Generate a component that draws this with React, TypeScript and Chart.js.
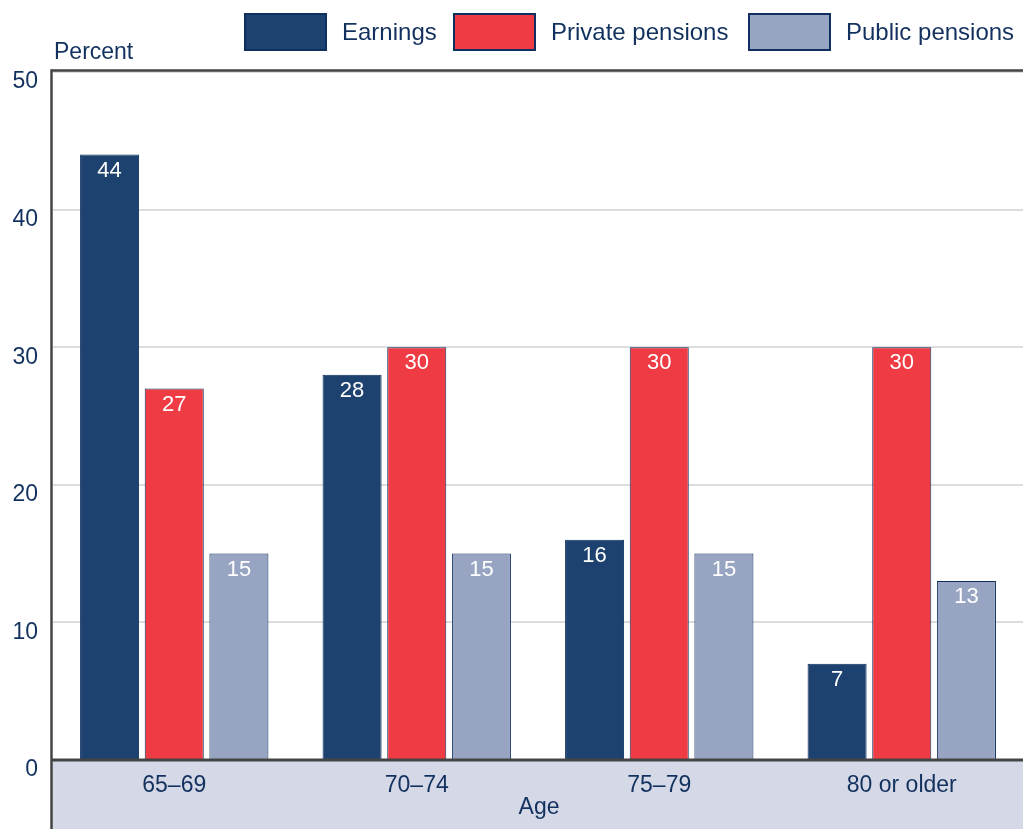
import React, { useEffect, useRef } from "react";
import { Chart, registerables } from "chart.js";

Chart.register(...registerables);

const categories = ["65–69", "70–74", "75–79", "80 or older"];
const earnings = [44, 28, 16, 7];
const privatePensions = [27, 30, 30, 30];
const publicPensions = [15, 15, 15, 13];
const seriesNames = ["Earnings", "Private pensions", "Public pensions"];
const yTicks = [0, 10, 20, 30, 40, 50];

const TEXT = "#12315e";
const BORDER = "#0e2f5f";
const COLORS = ["#1e426f", "#ef3c44", "#97a5c2"];
const FONT = "'Liberation Sans', Arial, Helvetica, sans-serif";

export default function App() {
  const ref = useRef<HTMLCanvasElement | null>(null);

  useEffect(() => {
    document.body.style.margin = "0";
    const canvas = ref.current!;
    const decor = {
      id: "decor",
      beforeDraw(chart: any) {
        const { ctx, chartArea } = chart;
        ctx.save();
        ctx.fillStyle = "#d5d8e6";
        ctx.fillRect(chartArea.left - 2, chartArea.bottom, chart.width, chart.height - chartArea.bottom);
        ctx.restore();
      },
      afterDraw(chart: any) {
        const { ctx, chartArea } = chart;
        ctx.save();
        // frame lines
        ctx.strokeStyle = "#444444";
        ctx.lineWidth = 2.5;
        const lx = chartArea.left - 1.5;
        ctx.beginPath();
        ctx.moveTo(lx, chartArea.top - 1.5);
        ctx.lineTo(chart.width, chartArea.top - 1.5);
        ctx.stroke();
        ctx.beginPath();
        ctx.moveTo(lx, chartArea.top - 2.8);
        ctx.lineTo(lx, chart.height);
        ctx.stroke();
        ctx.lineWidth = 3;
        ctx.beginPath();
        ctx.moveTo(lx, chartArea.bottom);
        ctx.lineTo(chart.width, chartArea.bottom);
        ctx.stroke();

        // data labels
        ctx.fillStyle = "#ffffff";
        ctx.font = `22px ${FONT}`;
        ctx.textAlign = "center";
        ctx.textBaseline = "middle";
        chart.data.datasets.forEach((ds: any, di: number) => {
          const meta = chart.getDatasetMeta(di);
          meta.data.forEach((bar: any, i: number) => {
            ctx.fillText(String(ds.data[i]), bar.x, bar.y + 16);
          });
        });

        // axis titles
        ctx.fillStyle = TEXT;
        ctx.font = `23px ${FONT}`;
        ctx.textAlign = "left";
        ctx.fillText("Percent", 54, 53);
        ctx.textAlign = "center";
        ctx.fillText("Age", (chartArea.left + chartArea.right) / 2 + 1, 808);

        // legend
        const boxX = [244, 453, 748];
        ctx.font = `24px ${FONT}`;
        ctx.textAlign = "left";
        seriesNames.forEach((name, i) => {
          ctx.fillStyle = COLORS[i];
          ctx.fillRect(boxX[i], 13, 83, 38);
          ctx.strokeStyle = BORDER;
          ctx.lineWidth = 2;
          ctx.strokeRect(boxX[i] + 1, 14, 81, 36);
          ctx.fillStyle = TEXT;
          ctx.fillText(name, boxX[i] + 98, 33);
        });
        ctx.restore();
      },
    };

    const chart = new Chart(canvas, {
      type: "bar",
      data: {
        labels: categories,
        datasets: [earnings, privatePensions, publicPensions].map((d, i) => ({
          label: seriesNames[i],
          data: d,
          backgroundColor: COLORS[i],
          borderColor: BORDER,
          borderWidth: 1,
          categoryPercentage: 0.8,
          barPercentage: 0.913,
        })),
      },
      options: {
        responsive: false,
        animation: false,
        layout: { padding: { left: 0, right: 0, top: 72, bottom: 0 } },
        plugins: { legend: { display: false }, tooltip: { enabled: false } },
        scales: {
          x: {
            grid: { display: false, drawTicks: false },
            border: { display: false },
            ticks: { color: TEXT, font: { family: FONT, size: 23 }, padding: 12 },
            afterFit: (s: any) => { s.height = 69; },
          },
          y: {
            min: 0,
            max: 50,
            afterBuildTicks: (s: any) => { s.ticks = yTicks.map((v) => ({ value: v })); },
            grid: { color: "#dcdcdc", lineWidth: 2, drawTicks: false },
            border: { display: false },
            ticks: { color: TEXT, font: { family: FONT, size: 23 }, padding: 15, labelOffset: 10 },
            afterFit: (s: any) => { s.width = 53; },
          },
        },
      },
      plugins: [decor],
    });
    return () => chart.destroy();
  }, []);

  return (
    <div style={{ position: "fixed", left: 0, top: 0, width: 1023, height: 829 }}>
      <canvas ref={ref} width={1023} height={829} style={{ display: "block" }} />
    </div>
  );
}
